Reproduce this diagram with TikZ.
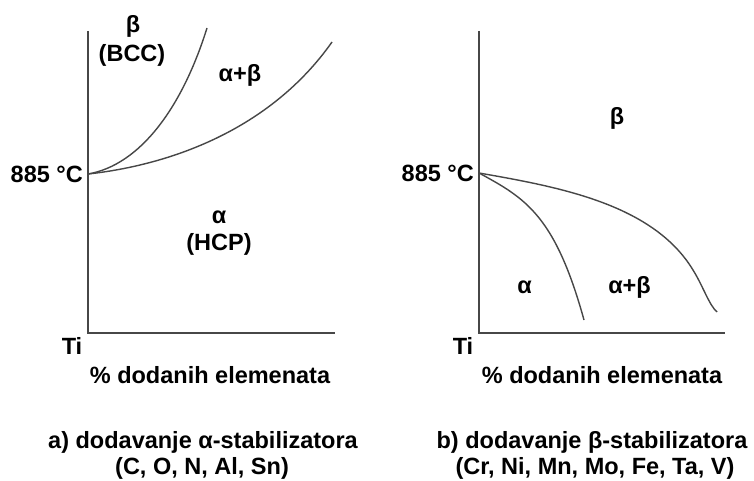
\documentclass[tikz,border=0pt]{standalone}
\usepackage{fontspec}
\setmainfont{Liberation Sans}
\begin{document}
\begin{tikzpicture}[x=1pt,y=-1pt,
  lbl/.style={font=\fontsize{23.5}{26}\selectfont\bfseries, inner sep=0pt},
  axis/.style={draw=black!72, line width=1.5pt},
  curve/.style={draw=black!72, line width=1.4pt}]
\useasboundingbox[fill=white] (0,0) rectangle (754,481);
% ---------- left panel ----------
\coordinate (LT) at (88,31);
\coordinate (LO) at (88,333);
\coordinate (LR) at (335,333);
\coordinate (L885) at (88,174);
\draw[axis] (LT) -- (LO) -- (LR);
\draw[curve] (L885) .. controls (140,165) and (182,108) .. (207,28);
\draw[curve] (L885) .. controls (170,165) and (270,130) .. (332,42);
\node[lbl, anchor=east] (l885) at (83,174) {885 °C};
\node[lbl] (lti) at (72,346) {Ti};
\node[lbl, anchor=base] (lbeta) at (133,33) {β};
\node[lbl, anchor=base] (lbcc) at (132,62) {(BCC)};
\node[lbl, anchor=base] (lab) at (240,82) {α+β};
\node[lbl, anchor=base] (lalpha) at (219,223) {α};
\node[lbl, anchor=base] (lhcp) at (219,250) {(HCP)};
\node[lbl, anchor=base] (lx) at (210,383) {\% dodanih elemenata};
\node[lbl, anchor=base] (lcap1) at (203,448) {a) dodavanje α-stabilizatora};
\node[lbl, anchor=base] (lcap2) at (202,474) {(C, O, N, Al, Sn)};
% ---------- right panel ----------
\coordinate (RT) at (479,31);
\coordinate (RO) at (479,333);
\coordinate (RR) at (725,333);
\coordinate (R885) at (479,173);
\draw[axis] (RT) -- (RO) -- (RR);
\draw[curve] (R885) .. controls (525,198) and (555,215) .. (584,320);
\draw[curve] (R885) .. controls (559,187) and (653,204) .. (693,270)
                     .. controls (703,286) and (709,305) .. (717,312);
\node[lbl, anchor=east] (r885) at (474,173) {885 °C};
\node[lbl] (rti) at (463,346) {Ti};
\node[lbl, anchor=base] (rbeta) at (617,125) {β};
\node[lbl, anchor=base] (ralpha) at (524.5,293) {α};
\node[lbl, anchor=base] (rab) at (629.5,293) {α+β};
\node[lbl, anchor=base] (rx) at (602,383) {\% dodanih elemenata};
\node[lbl, anchor=base] (rcap1) at (592,448) {b) dodavanje β-stabilizatora};
\node[lbl, anchor=base] (rcap2) at (595,474) {(Cr, Ni, Mn, Mo, Fe, Ta, V)};
\end{tikzpicture}
\end{document}
